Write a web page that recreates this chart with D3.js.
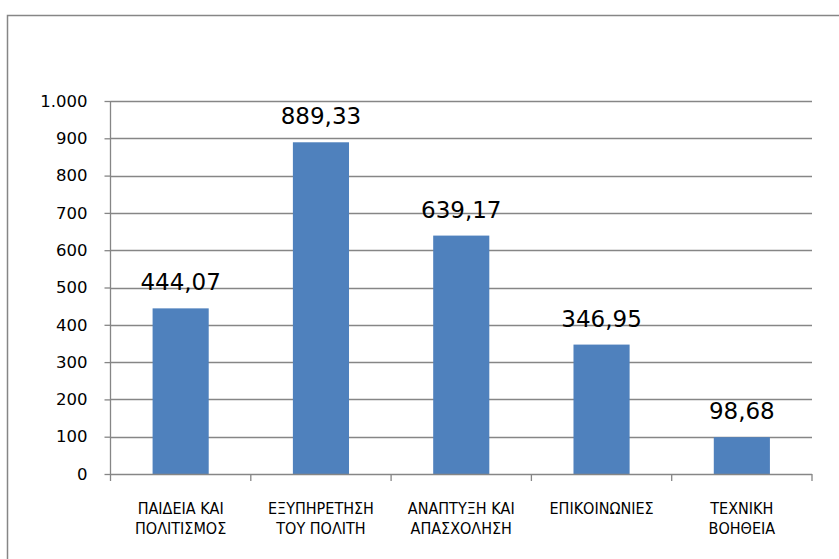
<!DOCTYPE html>
<html><head><meta charset="utf-8">
<script src="https://cdn.jsdelivr.net/npm/d3@7"></script>
<style>body{margin:0;background:#fff}svg{display:block}</style>
</head><body>
<script>
const categories = [["ΠΑΙΔΕΙΑ ΚΑΙ","ΠΟΛΙΤΙΣΜΟΣ"],["ΕΞΥΠΗΡΕΤΗΣΗ","ΤΟΥ ΠΟΛΙΤΗ"],["ΑΝΑΠΤΥΞΗ ΚΑΙ","ΑΠΑΣΧΟΛΗΣΗ"],["ΕΠΙΚΟΙΝΩΝΙΕΣ"],["ΤΕΧΝΙΚΗ","ΒΟΗΘΕΙΑ"]];
const values = [444.07, 889.33, 639.17, 346.95, 98.68];
const yTicks = [0,100,200,300,400,500,600,700,800,900,1000];

const W=839,H=559;
const svg=d3.select("body").append("svg").attr("width",W).attr("height",H);
const numFont="'DejaVu Sans', sans-serif";
const catFont="'DejaVu Sans Condensed', 'DejaVu Sans', sans-serif";
svg.append("rect").attr("x",7.5).attr("y",15.5).attr("width",W).attr("height",H).attr("fill","#fff").attr("stroke","#868686").attr("stroke-width",1.5);

const x0=110.5,x1=812,yb=474,yt=101;
const idx=categories.map((d,i)=>i);
const x=d3.scaleBand().domain(idx).range([x0,x1]).paddingInner(0.6).paddingOuter(0.3);
const xb=d3.scaleBand().domain(idx).range([x0,x1]);
const y=d3.scaleLinear().domain([0,1000]).range([yb,yt]);
const fmtY=d=>d>=1000?d3.format(",")(d).replace(/,/g,"."):String(d);

// gridlines
svg.append("g").selectAll("line").data(yTicks.filter(d=>d>0)).join("line")
 .attr("x1",x0).attr("x2",x1).attr("y1",d=>Math.round(y(d))+0.5).attr("y2",d=>Math.round(y(d))+0.5)
 .attr("stroke","#868686").attr("stroke-width",1.3);

// bars
svg.append("g").selectAll("rect").data(values).join("rect")
 .attr("x",(d,i)=>x(i)).attr("width",x.bandwidth())
 .attr("y",d=>y(d)).attr("height",d=>yb-y(d)).attr("fill","#4F81BD");

// y axis
const ya=svg.append("g").attr("transform",`translate(${x0},0)`)
 .call(d3.axisLeft(y).tickValues(yTicks).tickFormat(fmtY).tickSize(6).tickPadding(17));
ya.select(".domain").attr("stroke","#868686").attr("stroke-width",1.3).attr("d",`M-0,${yt}V${yb}`);
ya.selectAll(".tick line").attr("stroke","#868686").attr("stroke-width",1.3);
ya.selectAll(".tick text").attr("font-family",numFont).attr("font-size",16.5).attr("fill","#000");

// x axis
const xa=svg.append("g").attr("transform",`translate(0,${Math.round(yb)+0.5})`)
 .call(d3.axisBottom(xb).tickValues([]).tickSize(0));
xa.select(".domain").attr("stroke","#868686").attr("stroke-width",1.3).attr("d",`M${x0},0H${x1}`);
const bounds=idx.map(i=>xb(i)).concat([x1]);
svg.append("g").selectAll("line").data(bounds).join("line")
 .attr("x1",d=>d).attr("x2",d=>d).attr("y1",yb).attr("y2",yb+7)
 .attr("stroke","#868686").attr("stroke-width",1.3);

// category labels
const cl=svg.append("g").selectAll("text").data(categories).join("text")
 .attr("x",(d,i)=>xb(i)+xb.bandwidth()/2).attr("y",514)
 .attr("text-anchor","middle").attr("font-family",catFont).attr("font-size",16).attr("fill","#000");
cl.selectAll("tspan").data(d=>d).join("tspan")
 .attr("x",function(){return this.parentNode.getAttribute("x");})
 .attr("dy",(d,j)=>j===0?0:20).text(d=>d);

// value labels
svg.append("g").selectAll("text").data(values).join("text")
 .attr("x",(d,i)=>x(i)+x.bandwidth()/2).attr("y",d=>y(d)-18)
 .attr("text-anchor","middle").attr("font-family",numFont).attr("font-size",23).attr("fill","#000")
 .text(d=>d3.format(".2f")(d).replace(".",","));
</script>
</body></html>
